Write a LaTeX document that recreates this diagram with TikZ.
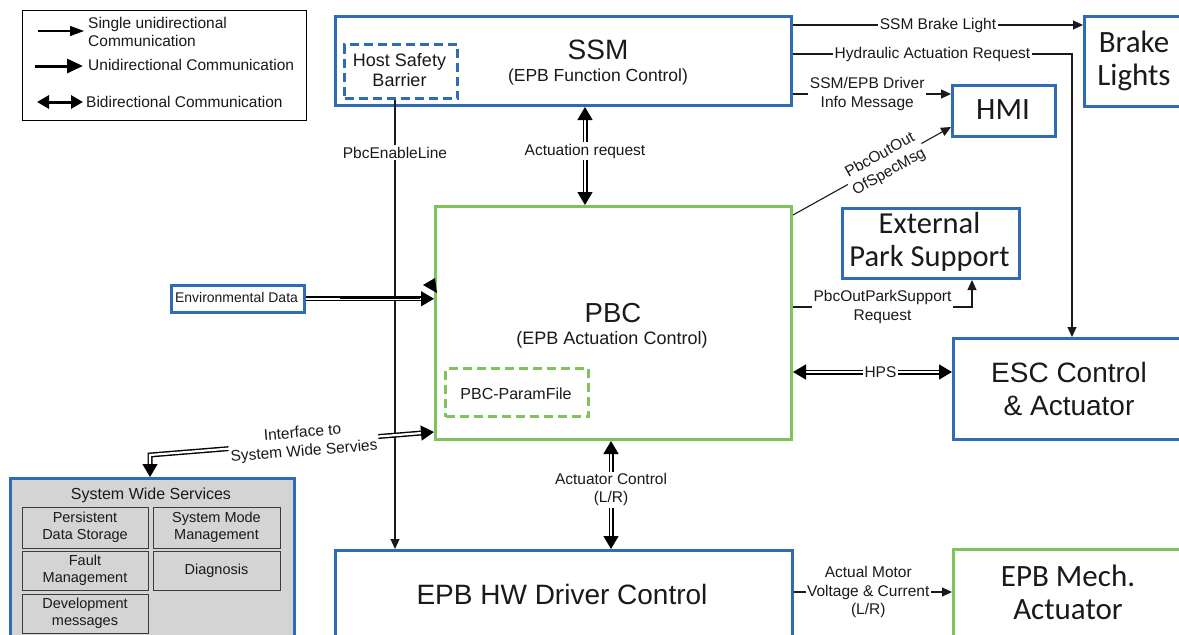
\documentclass[tikz,border=0pt]{standalone}
\usepackage{fontspec}
\setmainfont{Liberation Sans}
\newfontfamily\carlito{Carlito}
\usetikzlibrary{arrows.meta,calc}

\definecolor{boxblue}{RGB}{46,108,182}
\definecolor{boxgreen}{RGB}{128,194,92}
\definecolor{swsgray}{RGB}{212,212,212}
\definecolor{subedge}{RGB}{60,60,60}
\definecolor{ink}{RGB}{25,25,30}

\newcommand{\fs}[1]{\fontsize{#1pt}{\dimexpr #1pt*12/10\relax}\selectfont}

\tikzset{
  frame/.style={fill=white, inner sep=0pt, anchor=north west},
  bluebox/.style={frame, draw=boxblue, line width=3pt},
  greenbox/.style={frame, draw=boxgreen, line width=3pt},
  dashblue/.style={bluebox, dash pattern=on 9pt off 5pt},
  dashgreen/.style={greenbox, dash pattern=on 9pt off 5pt},
  subbox/.style={frame, draw=subedge, fill=swsgray, line width=1.3pt},
  txt/.style={text=ink, inner sep=0pt, align=center},
  lbl/.style={fill=white, text=ink, inner sep=1.5pt, align=center, font=\fs{15.5}},
  thinarrow/.style={draw=ink, line width=1.1pt, -{Triangle[length=10pt,width=9pt]}},
  dbl/.style={draw=black, double=white, double distance=2.2pt, line width=1.4pt},
  dbltip/.style={dbl, -{Triangle[length=13pt,width=15pt]}},
  dbltips/.style={dbl, {Triangle[length=13pt,width=15pt]}-{Triangle[length=13pt,width=15pt]}},
}

\begin{document}
\begin{tikzpicture}[x=1pt,y=-1pt]
\clip (0,0) rectangle (1179,635);
\fill[white] (0,0) rectangle (1179,635);

% ---------- legend ----------
\node[frame, draw=black, line width=1.2pt, minimum width=284pt, minimum height=110pt] (legend) at (22,10) {};
\coordinate (l1a) at (38,31);  \coordinate (l1b) at (84,31);
\coordinate (l2a) at (35,66);  \coordinate (l2b) at (83,66);
\coordinate (l3a) at (37,102); \coordinate (l3b) at (83,102);
\draw[draw=black, line width=1.3pt, -{Triangle[length=14pt,width=10pt]}] (l1a) -- (l1b);
\draw[draw=black, line width=3pt, -{Triangle[length=16pt,width=14pt]}] (l2a) -- (l2b);
\draw[draw=black, line width=3pt, {Triangle[length=12pt,width=13pt]}-{Triangle[length=12pt,width=13pt]}] (l3a) -- (l3b);
\node[txt, align=left, anchor=west, font=\fs{15.5}] (l1t) at (88,32) {Single unidirectional\\[-1.5pt]Communication};
\node[txt, anchor=west, font=\fs{15.5}] (l2t) at (88,65) {Unidirectional Communication};
\node[txt, anchor=west, font=\fs{15.5}] (l3t) at (86,102) {Bidirectional Communication};

% ---------- boxes ----------
\node[bluebox, minimum width=456pt, minimum height=89pt] (ssm) at (334,15) {};
\node[dashblue, minimum width=113pt, minimum height=54pt] (hsb) at (343,43) {};
\node[txt, font=\fs{18}] (hsbT) at (399.5,70) {Host Safety\\[-1pt]Barrier};
\node[txt, font=\fs{28}] (ssmT) at (598,50) {SSM};
\node[txt, font=\fs{17.5}] (ssmS) at (598,77) {(EPB Function Control)};

\node[bluebox, minimum width=102pt, minimum height=90pt] (brake) at (1083,15) {};
\node[txt, font=\carlito\fs{31}] (brakeT) at (1134,61) {Brake\\[-4pt]Lights};

\node[bluebox, minimum width=103pt, minimum height=51pt] (hmi) at (951,84) {};
\node[txt, font=\carlito\fs{31}] (hmiT) at (1003,110) {HMI};

\node[bluebox, minimum width=177pt, minimum height=70pt] (eps) at (841,207) {};
\node[txt, font=\carlito\fs{30.5}] (epsT) at (929.5,242) {External\\[-4pt]Park Support};

\node[bluebox, minimum width=234pt, minimum height=101pt] (esc) at (952,337) {};
\node[txt, font=\fs{28}] (escT) at (1069,389) {ESC Control\\[0pt]\& Actuator};

\node[greenbox, minimum width=356pt, minimum height=233pt] (pbc) at (434,205) {};
\node[txt, font=\fs{27.5}] (pbcT) at (613,313) {PBC};
\node[txt, font=\fs{18}] (pbcS) at (612,340) {(EPB Actuation Control)};
\node[dashgreen, minimum width=143pt, minimum height=48pt] (param) at (444,367) {};
\node[txt, font=\fs{16}] (paramT) at (516,394) {PBC-ParamFile};

\node[bluebox, minimum width=457pt, minimum height=100pt] (hw) at (334,549) {};
\node[txt, font=\fs{28}] (hwT) at (562,594) {EPB HW Driver Control};

\node[greenbox, minimum width=234pt, minimum height=100pt] (mech) at (952,548) {};
\node[txt, font=\carlito\fs{31}] (mechT) at (1068,592) {EPB Mech.\\[-4pt]Actuator};

\node[bluebox, line width=2.5pt, minimum width=133pt, minimum height=27pt] (env) at (170,284) {};
\node[txt, font=\fs{14}] (envT) at (236.5,297.5) {Environmental Data};

% ---------- system wide services ----------
\node[bluebox, fill=swsgray, minimum width=284pt, minimum height=170pt] (sws) at (9,477) {};
\node[txt, font=\fs{16}] (swsT) at (151,495) {System Wide Services};
\node[subbox, minimum width=126pt, minimum height=41pt] (pds) at (22,507) {};
\node[txt, font=\fs{14.5}] (pdsT) at (85,527.5) {Persistent\\Data Storage};
\node[subbox, minimum width=127pt, minimum height=41pt] (smm) at (153,507) {};
\node[txt, font=\fs{14.5}] (smmT) at (216.5,527.5) {System Mode\\Management};
\node[subbox, minimum width=126pt, minimum height=39pt] (fm) at (22,551) {};
\node[txt, font=\fs{14.5}] (fmT) at (85,570.5) {Fault\\Management};
\node[subbox, minimum width=127pt, minimum height=39pt] (diag) at (153,551) {};
\node[txt, font=\fs{14.5}] (diagT) at (216.5,571) {Diagnosis};
\node[subbox, minimum width=126pt, minimum height=39pt] (dev) at (22,594) {};
\node[txt, font=\fs{14.5}] (devT) at (85,613.5) {Development\\messages};

% ---------- connectors ----------
\draw[thinarrow] (ssm.east |- 0,25) -- node[lbl] (c1) {SSM Brake Light} (brake.west |- 0,25);
\draw[thinarrow] (ssm.east |- 0,54) -- node[lbl] (c2) {Hydraulic Actuation Request} (1072,54) -- (esc.north -| 1072,0);
\draw[thinarrow] (ssm.east |- 0,94) -- node[lbl, pos=0.47] (c3) {SSM/EPB Driver\\Info Message} (hmi.west |- 0,94);
\draw[thinarrow] (pbc.east |- 0,215) -- node[lbl, sloped, pos=0.58] (c4) {PbcOutOut\\OfSpecMsg} (hmi.west |- 0,127);
\draw[thinarrow] (pbc.east |- 0,307) -- node[lbl] (c5) {PbcOutParkSupport\\Request} (972,307) -- (eps.south -| 972,0);
\draw[thinarrow] (hsb.south -| 395,0) -- node[lbl, pos=0.117] (c6) {PbcEnableLine} (hw.north -| 395,0);
\draw[thinarrow] (hw.east |- 0,592) -- node[lbl, pos=0.47] (c7) {Actual Motor\\Voltage \& Current\\(L/R)} (mech.west |- 0,592);

\draw[dbltips] (ssm.south -| 585,0) -- node[lbl, pos=0.45] (c8) {Actuation request} (pbc.north -| 585,0);
\draw[dbltips] (pbc.south -| 611,0) -- node[lbl, pos=0.45] (c9) {Actuator Control\\(L/R)} (hw.north -| 611,0);
\draw[dbltips] (pbc.east |- 0,372) -- node[lbl, pos=0.55] (c10) {HPS} (esc.west |- 0,372);
\draw[dbltip] (env.east) -- (pbc.west |- env.east);
\draw[line width=3pt, draw=black] (340,297.5) -- (420,297.5);
\fill[black] (423,285) -- (435,278) -- (437,293) -- cycle;
\draw[dbltips] (sws.north -| 150,0) -- (150,455) -- node[lbl, sloped, pos=0.54] (c11) {Interface to\\System Wide Servies} (pbc.west |- 0,432);
\end{tikzpicture}
\end{document}
